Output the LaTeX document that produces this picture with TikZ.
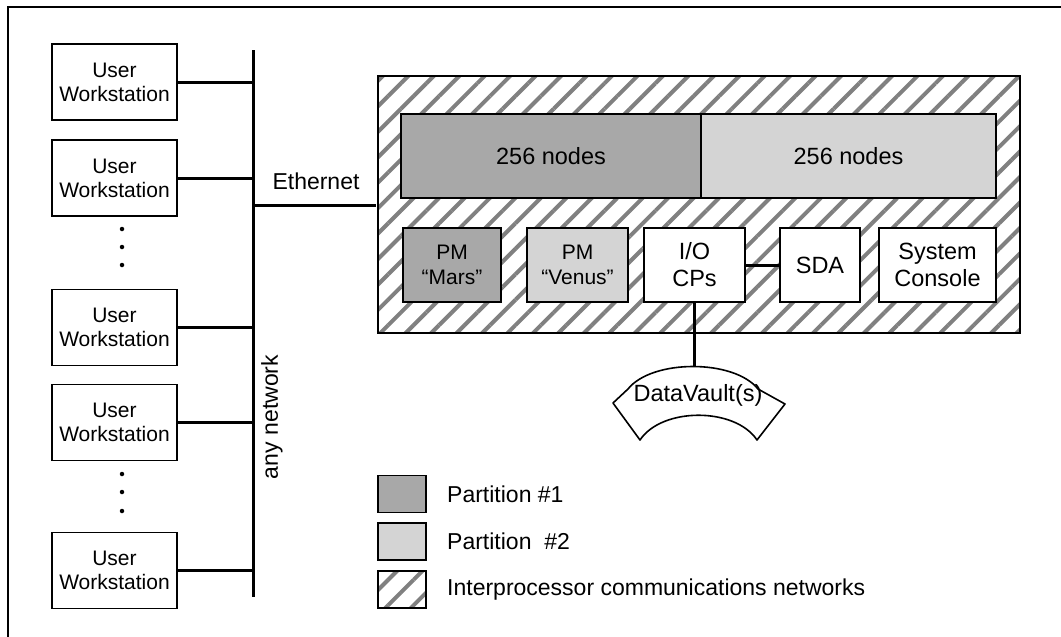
\documentclass[tikz,border=0pt]{standalone}
\usepackage{fontspec}
\setmainfont{Liberation Sans}
\usetikzlibrary{patterns.meta}

\definecolor{partone}{gray}{0.66}
\definecolor{parttwo}{gray}{0.83}
\definecolor{hatchgray}{gray}{0.5}

\tikzset{
  wsbox/.style={draw, line width=1.8pt, fill=white, minimum width=125pt, minimum height=76pt,
    align=center, inner sep=0pt, font=\fontsize{21}{24}\selectfont},
  unitbox/.style={draw, line width=1.8pt, inner sep=0pt, align=center,
    font=\fontsize{23.5}{27}\selectfont},
  pmbox/.style={unitbox, font=\fontsize{21}{25}\selectfont},
  hatchfill/.style={preaction={fill=white},
    pattern={Lines[angle=45,distance=18pt,line width=4pt]}, pattern color=hatchgray},
  bus/.style={line width=3pt},
  legendbox/.style={draw, line width=1.5pt, minimum width=48pt, minimum height=37pt, inner sep=0pt},
  legendtext/.style={anchor=west, inner sep=0pt, font=\fontsize{23}{27}\selectfont},
  plain/.style={inner sep=0pt, font=\fontsize{23}{27}\selectfont},
  dot/.style={circle, fill=black, inner sep=0pt, minimum size=4.5pt}
}

\begin{document}
\begin{tikzpicture}[x=1pt, y=-1pt]
\useasboundingbox (0,0) rectangle (1061,637);

% page frame
\draw[line width=1.4pt] (1061,7) -- (8,7) -- (8,637);

% workstations on the left
\node[wsbox] (ws1) at (114.5,82)  {User\\Workstation};
\node[wsbox] (ws2) at (114.5,178) {User\\Workstation};
\node[wsbox] (ws3) at (114.5,327.5) {User\\Workstation};
\node[wsbox] (ws4) at (114.5,422.5) {User\\Workstation};
\node[wsbox] (ws5) at (114.5,570.5) {User\\Workstation};

\node[dot] (d1) at (122,229) {};
\node[dot] (d2) at (122,247) {};
\node[dot] (d3) at (122,265) {};
\node[dot] (d4) at (122,474) {};
\node[dot] (d5) at (122,492) {};
\node[dot] (d6) at (122,511) {};

% the shared network bus
\coordinate (busTop) at (253,50);
\coordinate (busBot) at (253,597);
\draw[bus] (busTop) -- (busBot);
\foreach \w in {ws1,ws2,ws3,ws4,ws5}
  \draw[bus] (\w.east) -- (\w.east -| busTop);

\node[plain, rotate=90] (anynet) at (272,417) {any network};

% the machine cabinet
\node[draw, line width=1.8pt, hatchfill, minimum width=642pt, minimum height=257pt, inner sep=0pt]
  (cm) at (699,204.5) {};

\coordinate (ethJoin) at (253,205);
\draw[bus] (ethJoin) -- (ethJoin -| cm.west);
\node[plain] (eth) at (316,181) {Ethernet};

% processing nodes
\node[unitbox, fill=partone, minimum width=300pt, minimum height=84pt] (n1) at (551,156) {256 nodes};
\node[unitbox, fill=parttwo, minimum width=295pt, minimum height=84pt] (n2) at (848.5,156) {256 nodes};

% partition managers and I/O
\node[pmbox, fill=partone, minimum width=98pt, minimum height=74pt] (mars) at (452,265) {PM\\``Mars''};
\node[pmbox, fill=parttwo, minimum width=101pt, minimum height=74pt] (venus) at (577.5,265) {PM\\``Venus''};
\node[unitbox, fill=white, minimum width=101pt, minimum height=74pt] (io) at (694.5,265) {I/O\\CPs};
\node[unitbox, fill=white, minimum width=80pt, minimum height=74pt] (sda) at (820,265) {SDA};
\node[unitbox, fill=white, minimum width=117pt, minimum height=74pt] (con) at (937.5,265) {System\\Console};

\draw[bus] (io.east) -- (sda.west);

% DataVault drum
\draw[line width=1.6pt, line join=round]
  (613,403) -- (628,389) .. controls (652,359) and (734,359) .. (758,389)
  -- (785,404) -- (757,440) .. controls (735,407) and (662,407) .. (640,440) -- cycle;
\coordinate (dvTop) at (694.5,366);
\node[plain, font=\fontsize{23.5}{27}\selectfont] (dv) at (698,395) {DataVault(s)};
\draw[bus] (io.south) -- (dvTop);

% legend
\node[legendbox, fill=partone] (lg1) at (402,494) {};
\node[legendbox, fill=parttwo] (lg2) at (402,541.5) {};
\node[legendbox, hatchfill] (lg3) at (402,589.5) {};
\node[legendtext] (lt1) at (447,494) {Partition \#1};
\node[legendtext] (lt2) at (447,541.5) {Partition ~\#2};
\node[legendtext] (lt3) at (447,589.5) {Interprocessor communications networks};
\end{tikzpicture}
\end{document}
